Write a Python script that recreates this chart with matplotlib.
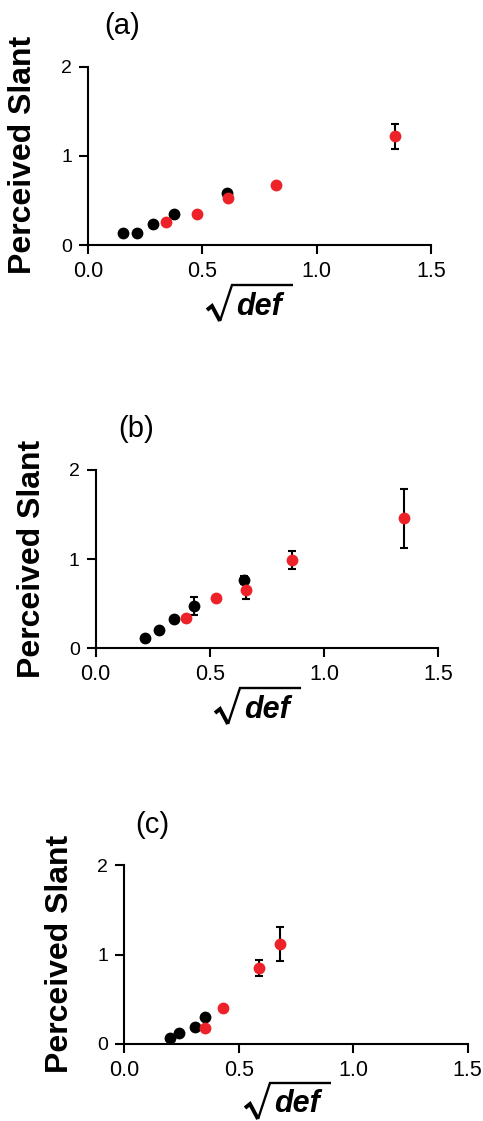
import numpy as np
import matplotlib
matplotlib.use("Agg")
import matplotlib.pyplot as plt
from matplotlib.lines import Line2D

plt.rcParams['font.family'] = ['Liberation Sans', 'DejaVu Sans']

# panel data: black series and red series (x = sqrt(def), y = perceived slant, err)
a_black_x = [0.153, 0.216, 0.286, 0.376, 0.607]
a_black_y = [0.131, 0.138, 0.236, 0.344, 0.579]
a_black_e = [0.0, 0.0, 0.0, 0.0, 0.0]
a_red_x = [0.339, 0.476, 0.614, 0.824, 1.341]
a_red_y = [0.258, 0.344, 0.527, 0.669, 1.219]
a_red_e = [0.0, 0.0, 0.0, 0.0, 0.137]

b_black_x = [0.217, 0.277, 0.341, 0.429, 0.649]
b_black_y = [0.112, 0.206, 0.325, 0.471, 0.766]
b_black_e = [0.0, 0.0, 0.0, 0.099, 0.05]
b_red_x = [0.394, 0.525, 0.657, 0.859, 1.351]
b_red_y = [0.336, 0.564, 0.658, 0.987, 1.458]
b_red_e = [0.0, 0.0, 0.105, 0.10, 0.333]

c_black_x = [0.201, 0.239, 0.310, 0.351]
c_black_y = [0.063, 0.119, 0.190, 0.298]
c_black_e = [0.0, 0.0, 0.0, 0.0]
c_red_x = [0.354, 0.430, 0.588, 0.679]
c_red_y = [0.182, 0.399, 0.849, 1.114]
c_red_e = [0.0, 0.0, 0.093, 0.188]

panel_labels = ['(a)', '(b)', '(c)']
RED = '#ED2128'

W, H = 483, 1121
fig = plt.figure(figsize=(W / 100, H / 100), dpi=100)

# pixel boxes: left, top, right, bottom of each axes
boxes = [(88, 66.7, 431, 245), (95.7, 470, 438.3, 648.3), (124.3, 865, 467.7, 1044)]
title_pos = [(121.7, 26), (136, 429), (152.5, 825)]
ylab_pos = [(23.3, 155), (31.7, 558.5), (60, 953.5)]
# left edge / overline height of the sqrt(def) label, pixels
xlab_pos = [(207, 285), (215, 688), (245, 1083)]

data = [
    (a_black_x, a_black_y, a_black_e, a_red_x, a_red_y, a_red_e),
    (b_black_x, b_black_y, b_black_e, b_red_x, b_red_y, b_red_e),
    (c_black_x, c_black_y, c_black_e, c_red_x, c_red_y, c_red_e),
]


def px(x, y):
    return x / W, 1 - y / H


def sqrt_label(x0, y0):
    # hand drawn bold radical, then the italic "def" under the bar
    hx, hy = px(x0, y0 + 25)
    kx, ky = px(x0 + 5, y0 + 21)
    bx_, by_ = px(x0 + 13, y0 + 36)
    tx_, ty_ = px(x0 + 25, y0)
    ex, ey = px(x0 + 86, y0)
    fig.add_artist(Line2D([hx, kx, bx_], [hy, ky, by_], transform=fig.transFigure,
                          color='black', lw=2.8, solid_joinstyle='miter',
                          solid_capstyle='butt'))
    fig.add_artist(Line2D([bx_, tx_, ex], [by_, ty_, ey], transform=fig.transFigure,
                          color='black', lw=1.7, solid_joinstyle='miter',
                          solid_capstyle='butt'))
    dx, dy = px(x0 + 29, y0 + 29.5)
    fig.text(dx, dy, 'def', fontsize=22, fontweight='bold', fontstyle='italic',
             ha='left', va='baseline')


for i, (bx, by, be, rx, ry, re) in enumerate(data):
    l, t, r, b = boxes[i]
    ax = fig.add_axes([l / W, 1 - b / H, (r - l) / W, (b - t) / H])
    ax.set_xlim(0, 1.5)
    ax.set_ylim(0, 2)
    ax.set_xticks([0, 0.5, 1.0, 1.5])
    ax.set_xticklabels(['0.0', '0.5', '1.0', '1.5'])
    ax.set_yticks([0, 1, 2])
    ax.spines['top'].set_visible(False)
    ax.spines['right'].set_visible(False)
    for s in ['left', 'bottom']:
        ax.spines[s].set_linewidth(1.5)
    ax.tick_params(direction='out', length=6.5, width=1.5, pad=5)
    ax.tick_params(axis='x', labelsize=15.5)
    ax.tick_params(axis='y', labelsize=14)
    ax.patch.set_visible(False)

    # error bars behind the dots
    ax.errorbar(bx, by, yerr=be, fmt='none', ecolor='black', elinewidth=1.5,
                capsize=3, capthick=1.5, zorder=2, clip_on=False)
    ax.errorbar(rx, ry, yerr=re, fmt='none', ecolor='black', elinewidth=1.5,
                capsize=3, capthick=1.5, zorder=2, clip_on=False)
    ax.plot(bx, by, 'o', color='black', markersize=8.5, markeredgewidth=0,
            zorder=3, clip_on=False)
    ax.plot(rx, ry, 'o', color=RED, markersize=8.5, markeredgewidth=0,
            zorder=4, clip_on=False)

    tx, ty = title_pos[i]
    fig.text(tx / W, 1 - ty / H, panel_labels[i], fontsize=21,
             ha='center', va='center')
    yx, yy = ylab_pos[i]
    fig.text(yx / W, 1 - yy / H, 'Perceived Slant', fontsize=23,
             fontweight='bold', rotation=90, ha='center', va='center')
    sqrt_label(*xlab_pos[i])

fig.savefig('out.png', dpi=100)
